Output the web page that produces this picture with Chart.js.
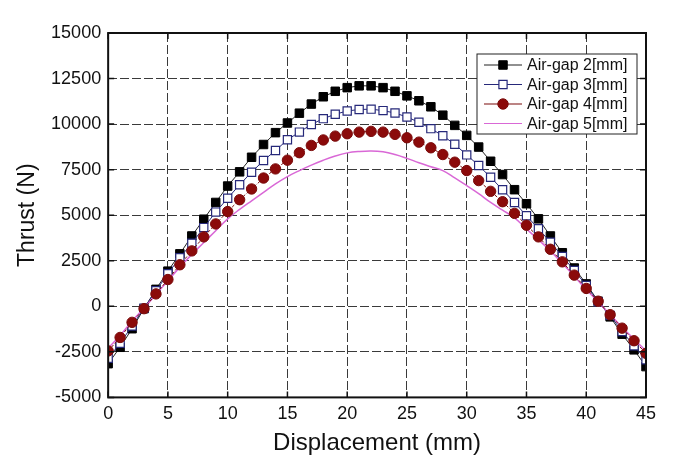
<!DOCTYPE html>
<html>
<head>
<meta charset="utf-8">
<script src="https://cdn.jsdelivr.net/npm/chart.js@4.4.1/dist/chart.umd.min.js"></script>
<style>
  html, body { margin: 0; padding: 0; background: #fff; }
  #wrap { width: 691px; height: 466px; }
</style>
</head>
<body>
<div id="wrap"><canvas id="thrustChart" width="691" height="466"></canvas></div>
<script>
// displacement in mm, one reading per mm
const displacement = [0, 1, 2, 3, 4, 5, 6, 7, 8, 9, 10, 11, 12, 13, 14, 15, 16, 17, 18, 19, 20, 21, 22,
    23, 24, 25, 26, 27, 28, 29, 30, 31, 32, 33, 34, 35, 36, 37, 38, 39, 40, 41, 42, 43, 44, 45];

const airGap2 = [-3150, -2250, -1230, -130, 930, 1930, 2880, 3860, 4780, 5700, 6600, 7380, 8180, 8880,
    9530, 10060, 10600, 11100, 11500, 11800, 12000, 12100, 12100, 12000, 11800, 11550, 11280, 10950,
    10490, 9930, 9380, 8740, 7960, 7230, 6400, 5630, 4800, 3860, 2940, 2100, 1230, 280, -580, -1530,
    -2390, -3310];

const airGap3 = [-2850, -2030, -1080, -100, 850, 1790, 2670, 3460, 4320, 5170, 5930, 6670, 7360, 8000,
    8550, 9140, 9560, 9980, 10300, 10540, 10720, 10800, 10820, 10740, 10610, 10390, 10100, 9750, 9360,
    8890, 8310, 7730, 7080, 6400, 5700, 4970, 4260, 3520, 2740, 1970, 1140, 250, -500, -1380, -2170,
    -2940];

const airGap4 = [-2450, -1710, -880, -130, 680, 1470, 2280, 3040, 3810, 4520, 5200, 5850, 6440, 7040,
    7540, 8020, 8430, 8830, 9130, 9340, 9470, 9560, 9600, 9560, 9440, 9250, 9010, 8700, 8330, 7910,
    7450, 6900, 6310, 5740, 5100, 4450, 3810, 3130, 2440, 1710, 980, 280, -460, -1200, -1890, -2580];

const airGap5 = [-2300, -1600, -820, -100, 650, 1400, 2150, 2850, 3500, 4150, 4800, 5320, 5790, 6250,
    6720, 7120, 7450, 7750, 8020, 8250, 8420, 8500, 8530, 8480, 8330, 8120, 7880, 7660, 7450, 7050,
    6620, 6180, 5700, 5280, 4850, 4250, 3650, 3040, 2350, 1650, 920, 240, -450, -1150, -1800, -2450];

const xTicks = [0, 5, 10, 15, 20, 25, 30, 35, 40, 45];
const yTicks = [-5000, -2500, 0, 2500, 5000, 7500, 10000, 12500, 15000];

const FONT = "'Liberation Sans', Arial, sans-serif";

function pts(values) {
    return displacement.map((x, i) => ({ x: x, y: values[i] }));
}

// plot frame + inward tick marks
const framePlugin = {
    id: 'frame',
    afterDraw(chart) {
        const { ctx, chartArea: a, scales } = chart;
        ctx.save();
        ctx.setLineDash([]);
        ctx.strokeStyle = '#111';
        ctx.lineWidth = 2;
        ctx.strokeRect(a.left, a.top, a.right - a.left, a.bottom - a.top);
        ctx.lineWidth = 1.5;
        ctx.beginPath();
        xTicks.forEach(v => {
            const px = scales.x.getPixelForValue(v);
            ctx.moveTo(px, a.bottom); ctx.lineTo(px, a.bottom - 6);
            ctx.moveTo(px, a.top); ctx.lineTo(px, a.top + 6);
        });
        yTicks.forEach(v => {
            const py = scales.y.getPixelForValue(v);
            ctx.moveTo(a.left, py); ctx.lineTo(a.left + 6, py);
            ctx.moveTo(a.right, py); ctx.lineTo(a.right - 6, py);
        });
        ctx.stroke();
        ctx.restore();
    }
};

// boxed legend in the upper right of the plot, line with marker through it
const boxLegend = {
    id: 'boxLegend',
    afterDraw(chart) {
        const { ctx, chartArea: a } = chart;
        const sets = chart.data.datasets;
        const boxL = a.right - 169, boxT = a.top + 21, boxW = 160, rowH = 19.5;
        const boxH = sets.length * rowH + 2;
        ctx.save();
        ctx.setLineDash([]);
        ctx.fillStyle = '#fff';
        ctx.fillRect(boxL, boxT, boxW, boxH);
        ctx.strokeStyle = '#222';
        ctx.lineWidth = 1;
        ctx.strokeRect(boxL, boxT, boxW, boxH);
        ctx.font = '16px ' + FONT;
        ctx.textBaseline = 'middle';
        sets.forEach((ds, i) => {
            const y = boxT + 11 + i * rowH;
            ctx.strokeStyle = ds.borderColor;
            ctx.lineWidth = 1.2;
            ctx.beginPath();
            ctx.moveTo(boxL + 7, y);
            ctx.lineTo(boxL + 45, y);
            ctx.stroke();
            if (ds.pointRadius > 0) {
                ctx.fillStyle = ds.pointBackgroundColor;
                ctx.strokeStyle = ds.pointBorderColor;
                ctx.lineWidth = ds.pointBorderWidth;
                Chart.helpers.drawPoint(ctx, {
                    pointStyle: ds.pointStyle,
                    rotation: 0,
                    radius: ds.pointRadius,
                    borderWidth: ds.pointBorderWidth
                }, boxL + 26, y);
            }
            ctx.fillStyle = '#111';
            ctx.fillText(ds.label, boxL + 50, y + 1);
        });
        ctx.restore();
    }
};

const config = {
    type: 'line',
    data: {
        datasets: [{
            label: 'Air-gap 2[mm]',
            data: pts(airGap2),
            borderColor: '#222',
            backgroundColor: '#000',
            pointStyle: 'rect',
            pointRadius: 6,
            pointBackgroundColor: '#000',
            pointBorderColor: '#000',
            pointBorderWidth: 1,
            borderWidth: 1,
            order: 3
        }, {
            label: 'Air-gap 3[mm]',
            data: pts(airGap3),
            borderColor: '#26287a',
            backgroundColor: '#fff',
            pointStyle: 'rect',
            pointRadius: 5.8,
            pointBackgroundColor: '#fff',
            pointBorderColor: '#26287a',
            pointBorderWidth: 1.2,
            borderWidth: 1,
            order: 2
        }, {
            label: 'Air-gap 4[mm]',
            data: pts(airGap4),
            borderColor: '#7a0a0a',
            backgroundColor: '#8b0a0a',
            pointStyle: 'circle',
            pointRadius: 5.2,
            pointBackgroundColor: '#8b0a0a',
            pointBorderColor: '#7a0a0a',
            pointBorderWidth: 1,
            borderWidth: 1,
            borderDash: [3, 2],
            order: 0
        }, {
            label: 'Air-gap 5[mm]',
            data: pts(airGap5),
            borderColor: '#d968d6',
            backgroundColor: '#d968d6',
            pointRadius: 0,
            borderWidth: 1.5,
            tension: 0.4,
            order: 1
        }]
    },
    options: {
        responsive: false,
        devicePixelRatio: 1,
        animation: false,
        layout: {
            padding: { left: 14, right: 45, top: 33, bottom: 9.8 }
        },
        scales: {
            x: {
                type: 'linear',
                min: 0,
                max: 45,
                afterBuildTicks(scale) {
                    scale.ticks = xTicks.map(v => ({ value: v }));
                },
                grid: {
                    color: '#3a3a3a',
                    lineWidth: 1,
                    drawTicks: false
                },
                border: { display: false, dash: [9, 3] },
                ticks: {
                    color: '#111',
                    padding: 6,
                    font: { family: FONT, size: 18 }
                },
                title: {
                    display: true,
                    text: 'Displacement (mm)',
                    color: '#111',
                    padding: { top: 0, bottom: 0 },
                    font: { family: FONT, size: 24, lineHeight: 1.05 }
                }
            },
            y: {
                min: -5000,
                max: 15000,
                afterBuildTicks(scale) {
                    scale.ticks = yTicks.map(v => ({ value: v }));
                },
                grid: {
                    color: '#3a3a3a',
                    lineWidth: 1,
                    drawTicks: false
                },
                border: { display: false, dash: [9, 3] },
                ticks: {
                    color: '#111',
                    padding: 7,
                    font: { family: FONT, size: 18 },
                    callback: v => String(v)
                },
                title: {
                    display: true,
                    text: 'Thrust (N)',
                    color: '#111',
                    padding: { top: 0, bottom: 2.5 },
                    font: { family: FONT, size: 23 }
                }
            }
        },
        plugins: {
            legend: { display: false },
            tooltip: { enabled: false }
        }
    },
    plugins: [framePlugin, boxLegend]
};

const thrustChart = new Chart(document.getElementById('thrustChart'), config);
</script>
</body>
</html>
